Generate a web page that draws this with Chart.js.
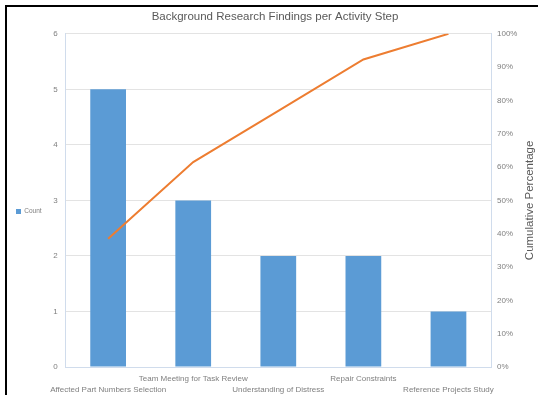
<!DOCTYPE html>
<html>
<head>
<meta charset="utf-8">
<script src="https://cdn.jsdelivr.net/npm/chart.js@4"></script>
<style>
  html, body { margin: 0; padding: 0; background: #fff; }
  #wrap { position: relative; width: 538px; height: 395px; overflow: hidden; }
  #frame { position: absolute; left: 5px; top: 5px; width: 600px; height: 500px;
           border-left: 2px solid #000; border-top: 2px solid #000; pointer-events: none; }
  canvas { position: absolute; left: 0; top: 0; }
</style>
</head>
<body>
<div id="wrap">
  <canvas id="c" width="538" height="395"></canvas>
  <div id="frame"></div>
</div>
<script>
// Activity steps, findings per step and running share of all findings
const categories = [
  'Affected Part Numbers Selection',
  'Team Meeting for Task Review',
  'Understanding of Distress',
  'Repair Constraints',
  'Reference Projects Study'
];
const counts = [5, 3, 2, 2, 1];
const cumulativePct = [38.5, 61.5, 76.9, 92.3, 100];
const countTicks = [0, 1, 2, 3, 4, 5, 6];
const pctTicks = [0, 10, 20, 30, 40, 50, 60, 70, 80, 90, 100];

const FONT = "'Liberation Sans', Arial, sans-serif";
const TEXT = '#7f7f7f';
const TITLE = '#595959';
const RIGHT_TITLE = 'Cumulative Percentage';

// staggered category labels: even steps on the lower row, odd on the upper
const stagger = categories.map((c, i) => (i % 2 === 0 ? ['', c] : [c, '']));

// right-hand axis title, read bottom-to-top beside the percentage ticks
const rightTitle = {
  id: 'rightTitle',
  afterDraw(chart) {
    const s = chart.scales.y1;
    const ctx = chart.ctx;
    ctx.save();
    ctx.translate(530, (s.top + s.bottom) / 2);
    ctx.rotate(-Math.PI / 2);
    ctx.font = '11.5px ' + FONT;
    ctx.fillStyle = TITLE;
    ctx.textAlign = 'center';
    ctx.textBaseline = 'middle';
    ctx.fillText(RIGHT_TITLE, 0, 0);
    ctx.restore();
  }
};

// sit the legend a little below the middle of the plot
const legendNudge = {
  id: 'legendNudge',
  afterLayout(chart) {
    const lg = chart.legend;
    if (lg) { lg.top += 14; lg.bottom += 14; }
  }
};

new Chart(document.getElementById('c'), {
  data: {
    labels: stagger,
    datasets: [
      {
        type: 'line',
        label: RIGHT_TITLE,
        data: cumulativePct,
        yAxisID: 'y1',
        borderColor: '#ED7D31',
        backgroundColor: '#ED7D31',
        borderWidth: 2,
        pointRadius: 0,
        tension: 0,
        order: 0
      },
      {
        type: 'bar',
        label: 'Count',
        data: counts,
        yAxisID: 'y',
        backgroundColor: '#5B9BD5',
        borderWidth: 0,
        barPercentage: 0.42,
        categoryPercentage: 1,
        order: 1
      }
    ]
  },
  options: {
    responsive: false,
    devicePixelRatio: 1,
    animation: false,
    layout: { padding: { left: 12, right: 0, top: 0, bottom: 0 } },
    plugins: {
      title: {
        display: true,
        text: 'Background Research Findings per Activity Step',
        color: TITLE,
        font: { family: FONT, size: 11.5, weight: 'normal' },
        padding: { top: 10, bottom: 10 }
      },
      legend: {
        position: 'left',
        labels: {
          filter: item => item.text === 'Count',
          boxWidth: 5,
          boxHeight: 5,
          padding: 4,
          color: TEXT,
          font: { family: FONT, size: 6.5 }
        }
      },
      tooltip: { enabled: false }
    },
    scales: {
      x: {
        offset: true,
        grid: { display: false },
        border: { color: '#D0DCEC' },
        ticks: {
          autoSkip: false,
          maxRotation: 0,
          minRotation: 0,
          padding: -2,
          color: TEXT,
          font: { family: FONT, size: 8, lineHeight: 1.4 }
        },
        afterFit: s => { s.height = 28; }
      },
      y: {
        position: 'left',
        min: 0,
        max: 6,
        afterBuildTicks: s => { s.ticks = countTicks.map(v => ({ value: v })); },
        grid: { color: '#E3E3E3', drawTicks: false },
        border: { color: '#D0DCEC' },
        ticks: { padding: 8, color: TEXT, font: { family: FONT, size: 8 } },
        afterFit: s => { s.width = 14; }
      },
      y1: {
        position: 'right',
        min: 0,
        max: 100,
        afterBuildTicks: s => { s.ticks = pctTicks.map(v => ({ value: v })); },
        grid: { drawOnChartArea: false, drawTicks: false },
        border: { color: '#D0DCEC' },
        ticks: { padding: 6, color: TEXT, font: { family: FONT, size: 8 }, callback: v => v + '%' },
        afterFit: s => { s.width = 47; }
      }
    }
  },
  plugins: [rightTitle, legendNudge]
});
</script>
</body>
</html>
